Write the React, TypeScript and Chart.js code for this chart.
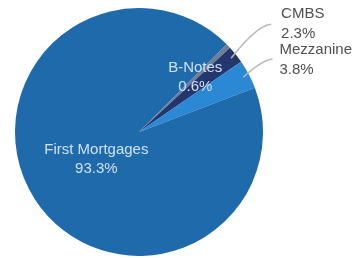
import React, { useEffect, useRef } from "react";
import { Chart, registerables } from "chart.js";

Chart.register(...registerables);

const categories = ["B-Notes", "CMBS", "Mezzanine", "First Mortgages"];
const values = [0.6, 2.3, 3.8, 93.3];
const valueLabels = ["0.6%", "2.3%", "3.8%", "93.3%"];
const colors = ["#6f7e96", "#24366e", "#2a88d4", "#1e6aab"];

// label placement: inside labels at a fraction of radius, outside labels offset from edge
const placements: any[] = [
  { kind: "inside", frac: 0.63, color: "#cfe2f4" },
  { kind: "outside", dx: 50, dy: -44, lineDx: 40, lineDy: -34, color: "#4f4f4f" },
  { kind: "outside", dx: 36, dy: -27, lineDx: 29, lineDy: -18, color: "#4f4f4f" },
  { kind: "inside", frac: 0.41, color: "#cfe2f4" },
];

const labelPlugin = {
  id: "pieLabels",
  afterDraw(chart: any) {
    const ctx = chart.ctx;
    const meta = chart.getDatasetMeta(0);
    ctx.save();
    ctx.font = "15px 'Liberation Sans', Arial, sans-serif";
    ctx.textBaseline = "middle";
    meta.data.forEach((arc: any, i: number) => {
      const p = arc.getProps(["x", "y", "startAngle", "endAngle", "outerRadius"], true);
      const mid = (p.startAngle + p.endAngle) / 2;
      const pl = placements[i];
      const lines = [categories[i], valueLabels[i]];
      const lh = 19;
      if (pl.kind === "inside") {
        const cx = p.x + Math.cos(mid) * p.outerRadius * pl.frac;
        const cy = p.y + Math.sin(mid) * p.outerRadius * pl.frac;
        ctx.fillStyle = pl.color;
        ctx.textAlign = "center";
        ctx.fillText(lines[0], cx, cy - lh / 2);
        ctx.fillText(lines[1], cx, cy + lh / 2);
      } else {
        const ex = p.x + Math.cos(mid) * (p.outerRadius - 6);
        const ey = p.y + Math.sin(mid) * (p.outerRadius - 6);
        const tx = ex + pl.dx;
        const ty = ey + pl.dy;
        ctx.strokeStyle = "#b8b8b8";
        ctx.lineWidth = 1.5;
        ctx.beginPath();
        ctx.moveTo(ex, ey);
        const lx = ex + pl.lineDx;
        const ly = ey + pl.lineDy;
        ctx.quadraticCurveTo(ex + pl.lineDx * 0.65, ly + 1, lx, ly);
        ctx.stroke();
        ctx.fillStyle = pl.color;
        ctx.textAlign = "left";
        ctx.fillText(lines[0], tx, ty);
        ctx.fillText(lines[1], tx, ty + lh + 1);
      }
    });
    ctx.restore();
  },
};

export default function App() {
  const ref = useRef<HTMLCanvasElement>(null);
  useEffect(() => {
    const chart = new Chart(ref.current!, {
      type: "pie",
      data: {
        labels: categories,
        datasets: [
          {
            data: values,
            backgroundColor: colors,
            borderWidth: 0,
          },
        ],
      },
      options: {
        animation: false,
        responsive: false,
        rotation: 45,
        layout: { padding: { left: 15, right: 94, top: 8, bottom: 2 } },
        plugins: { legend: { display: false }, tooltip: { enabled: false } },
      },
      plugins: [labelPlugin],
    });
    return () => chart.destroy();
  }, []);
  return (
    <div style={{ position: "absolute", left: 0, top: 0, width: 357, height: 258, background: "#fff" }}>
      <canvas ref={ref} width={357} height={258} />
    </div>
  );
}
